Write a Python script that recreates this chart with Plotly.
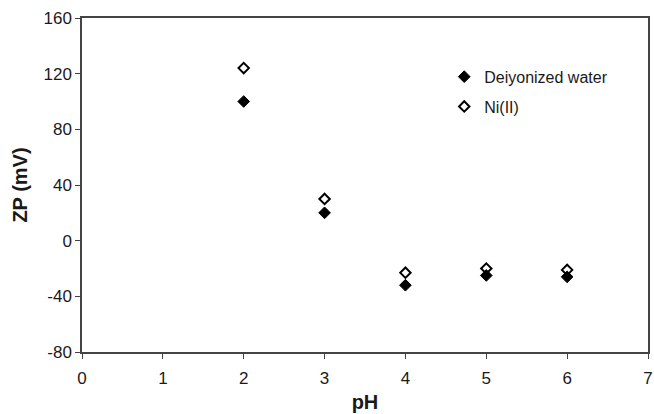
import plotly.graph_objects as go

# Zeta potential of the adsorbent versus pH in two media
ph = [2, 3, 4, 5, 6]
zp_water = [100, 20, -32, -25, -26]
zp_ni = [124, 30, -23, -20, -21]

x_ticks = [0, 1, 2, 3, 4, 5, 6, 7]
y_ticks = [-80, -40, 0, 40, 80, 120, 160]
y_tick_text = [str(v) for v in y_ticks]  # plain hyphen for negatives

FONT = "Liberation Sans, Arial, Helvetica, sans-serif"

fig = go.Figure()
fig.add_trace(go.Scatter(
    x=ph, y=zp_water, mode="markers", name="Deiyonized water",
    legendgroup="a",
    marker=dict(symbol="diamond", size=9, color="black",
                line=dict(color="black", width=1)),
))
fig.add_trace(go.Scatter(
    x=ph, y=zp_ni, mode="markers", name="Ni(II)",
    legendgroup="b",
    marker=dict(symbol="diamond-open", size=8, color="black",
                line=dict(color="black", width=2)),
))

axis_common = dict(
    showgrid=False, zeroline=False, showline=True, mirror=True,
    linecolor="#444", linewidth=1.5, ticks="outside", ticklen=5,
    tickcolor="#444", tickwidth=1, automargin=False,
    tickfont=dict(family=FONT, size=17, color="#1a1a1a"),
)

fig.update_layout(
    width=654, height=414,
    margin=dict(l=82, r=6, t=18, b=62),
    paper_bgcolor="white", plot_bgcolor="white",
    showlegend=True,
    legend=dict(
        x=0.64, y=0.875, xanchor="left", yanchor="top",
        font=dict(family=FONT, size=16, color="#1a1a1a"),
        tracegroupgap=6, itemwidth=30, bgcolor="rgba(0,0,0,0)",
    ),
    xaxis=dict(range=[0, 7], tickvals=x_ticks, ticklabelstandoff=5,
               title=dict(text="<b>pH</b>", standoff=8,
                          font=dict(family=FONT, size=20, color="#1a1a1a")),
               **axis_common),
    yaxis=dict(range=[-80, 160], tickvals=y_ticks, ticktext=y_tick_text,
               title=dict(text="<b>ZP (mV)</b>", standoff=10,
                          font=dict(family=FONT, size=20, color="#1a1a1a")),
               **axis_common),
)

fig.write_html("out.html")
